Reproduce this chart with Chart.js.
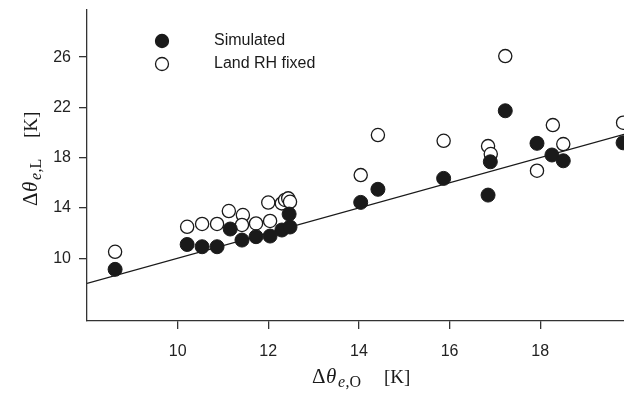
<!DOCTYPE html>
<html>
<head>
<meta charset="utf-8">
<script src="https://cdn.jsdelivr.net/npm/chart.js@4/dist/chart.umd.min.js"></script>
<style>
  html, body { margin: 0; padding: 0; background: #fff; }
  #wrap { width: 624px; height: 395px; }
</style>
</head>
<body>
<div id="wrap"><canvas id="chartTheta" width="624" height="395"></canvas></div>
<script>
// --- dados ---
const simX = [8.62, 10.21, 10.54, 10.87, 11.16, 11.42, 11.73, 12.04, 12.30, 12.48, 12.46,
              14.04, 14.42, 15.87, 16.85, 16.90, 17.23, 17.93, 18.26, 18.51, 19.83];
const simY = [9.11, 11.09, 10.91, 10.91, 12.32, 11.44, 11.71, 11.76, 12.24, 12.48, 13.51,
              14.44, 15.48, 16.35, 15.02, 17.67, 21.73, 19.14, 18.21, 17.75, 19.18];

const fixX = [8.62, 10.21, 10.54, 10.87, 11.13, 11.44, 11.42, 11.73, 12.04, 12.00, 12.30, 12.37,
              12.44, 12.48, 14.04, 14.42, 15.87, 16.85, 16.91, 17.23, 17.93, 18.28, 18.51, 19.83];
const fixY = [10.51, 12.50, 12.72, 12.72, 13.75, 13.43, 12.64, 12.76, 12.96, 14.43, 14.36, 14.63,
              14.76, 14.49, 16.61, 19.80, 19.34, 18.92, 18.29, 26.08, 16.96, 20.59, 19.08, 20.78];

// reta 1:1
const lineX = [8, 19.85];
const lineY = [8, 19.85];

const xTicks = [10, 12, 14, 16, 18];
const yTicks = [10, 14, 18, 22, 26];

const seriesLabels = ['Simulated', 'Land RH fixed'];

// rótulos dos eixos: [texto, itálico, subscrito, deslocamento, tamanho]
const xTitleParts = [['Δ', 0, 0, 0, 21], ['θ', 1, 0, 14, 21], ['e', 1, 1, 26, 16], [',O', 0, 1, 33.5, 16], ['[K]', 0, 0, 72, 19]];
const yTitleParts = [['Δ', 0, 0, 0, 21], ['θ', 1, 0, 14, 21], ['e', 1, 1, 26, 16], [',L', 0, 1, 33.5, 16], ['[K]', 0, 0, 68, 19]];

const INK = '#1a1a1a';

function toPts(xs, ys) {
    return xs.map((x, i) => ({ x: x, y: ys[i] }));
}

// desenha texto "matemático" com subscrito, a partir de (x0, base)
function drawMath(ctx, parts, x0, base, angle) {
    ctx.save();
    ctx.translate(x0, base);
    ctx.rotate(angle);
    ctx.fillStyle = INK;
    ctx.textBaseline = 'alphabetic';
    ctx.textAlign = 'left';
    parts.forEach(p => {
        ctx.font = (p[1] ? 'italic ' : '') + p[4] + 'px "Liberation Serif", serif';
        ctx.fillText(p[0], p[3], p[2] ? 4 : 0);
    });
    ctx.restore();
}

const extrasPlugin = {
    id: 'extras',
    afterDraw(chart) {
        const ctx = chart.ctx;
        // títulos dos eixos
        drawMath(ctx, xTitleParts, 312, 383, 0);
        drawMath(ctx, yTitleParts, 36.5, 206, -Math.PI / 2);

        // legenda
        const ds = chart.data.datasets;
        [0, 1].forEach(i => {
            const y = 41 + i * 23;
            ctx.beginPath();
            ctx.arc(162, y, 6.5, 0, Math.PI * 2);
            ctx.fillStyle = ds[i].backgroundColor;
            ctx.fill();
            ctx.lineWidth = 1.3;
            ctx.strokeStyle = INK;
            ctx.stroke();
            ctx.fillStyle = INK;
            ctx.font = '16px "Liberation Sans", Arial, sans-serif';
            ctx.textBaseline = 'middle';
            ctx.textAlign = 'left';
            ctx.fillText(ds[i].label, 214, y);
        });
    }
};

const axisCommon = {
    type: 'linear',
    grid: { drawOnChartArea: false, drawTicks: true, tickLength: 8, color: '#333', lineWidth: 1.3 },
    border: { display: true, color: '#333', width: 1.3 },
    ticks: {
        color: '#222',
        font: { family: 'Liberation Sans', size: 16 },
        maxRotation: 0,
        autoSkip: false
    }
};

function noPad(s) {
    s.paddingLeft = 0; s.paddingRight = 0; s.paddingTop = 0; s.paddingBottom = 0;
}

new Chart(document.getElementById('chartTheta'), {
    type: 'scatter',
    data: {
        datasets: [
            {
                label: seriesLabels[0],
                data: toPts(simX, simY),
                backgroundColor: INK,
                borderColor: INK,
                borderWidth: 1,
                pointRadius: 7,
                clip: false
            },
            {
                label: seriesLabels[1],
                data: toPts(fixX, fixY),
                backgroundColor: '#ffffff',
                borderColor: INK,
                borderWidth: 1.3,
                pointRadius: 6.6,
                clip: false
            },
            {
                type: 'line',
                label: '1:1',
                data: toPts(lineX, lineY),
                borderColor: INK,
                borderWidth: 1.3,
                pointRadius: 0,
                fill: false
            }
        ]
    },
    options: {
        responsive: false,
        animation: false,
        devicePixelRatio: 1,
        // sem autoPadding: o eixo x vai até a borda direita, como no original (cortado)
        layout: { autoPadding: false, padding: { top: 10, left: 0, right: 0, bottom: 0 } },
        plugins: { legend: { display: false }, tooltip: { enabled: false } },
        scales: {
            x: {
                ...axisCommon,
                min: 8, max: 19.85,
                ticks: { ...axisCommon.ticks, padding: 13 },
                afterBuildTicks: s => { s.ticks = xTicks.map(v => ({ value: v })); },
                afterFit: s => { s.height = 74; noPad(s); }
            },
            y: {
                ...axisCommon,
                min: 5, max: 29.75,
                ticks: { ...axisCommon.ticks, padding: 8 },
                afterBuildTicks: s => { s.ticks = yTicks.map(v => ({ value: v })); },
                afterFit: s => { s.width = 87; noPad(s); }
            }
        }
    },
    plugins: [extrasPlugin]
});
</script>
</body>
</html>
